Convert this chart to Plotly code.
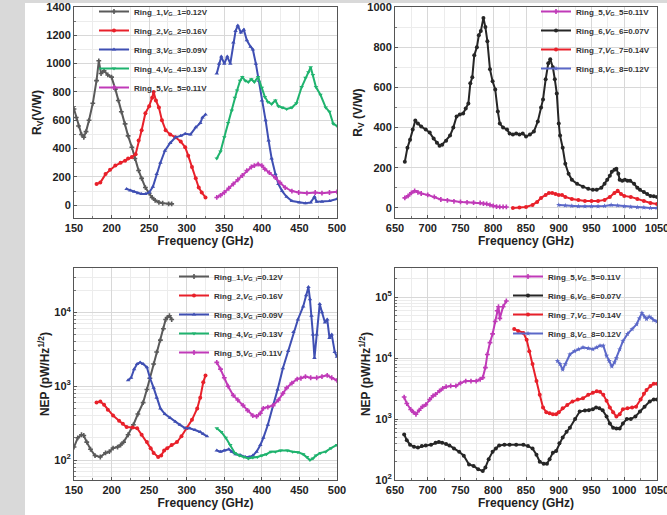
import plotly.graph_objects as go

# ---------------- data: top-left (Rv, 150-500 GHz) ----------------
r1_f = [150,153,156,160,163,166,170,175,180,183,186,190,195,200,205,209,213,218,222,227,231,236,240,245,250,254,258,263,268,276,280]
r1_v = [680,620,560,500,480,520,600,720,880,1020,930,950,920,905,820,740,660,575,490,410,330,245,190,125,85,55,35,20,14,10,10]

r2_f = [180,185,192,198,205,212,218,222,227,232,236,240,245,250,254,256,259,263,267,272,278,285,292,298,302,307,312,316,320,325]
r2_v = [150,160,220,250,280,300,315,330,340,360,457,530,650,700,760,800,740,690,600,530,500,480,450,410,350,270,190,125,90,55]

r3a_f = [220,225,230,235,240,245,250,255,260,265,271,278,285,292,298,305,312,318,321,325]
r3a_v = [115,105,95,85,80,80,90,130,220,300,385,440,480,490,505,500,550,580,620,640]

r3b_f = [340,343,346,350,354,358,362,365,368,372,376,380,385,388,392,396,400,405,409,413,418,422,427,433,440,450,458,465,470,473,480,490,500]
r3b_v = [930,1000,1050,1000,1050,1000,1150,1230,1270,1220,1240,1165,1120,1100,1000,880,740,600,457,330,220,150,100,60,30,20,15,20,60,25,25,30,45]

r4_f = [340,345,350,355,360,364,367,371,374,378,382,386,390,395,400,404,408,413,418,422,427,433,440,446,453,458,462,465,468,472,478,485,490,495,500]
r4_v = [330,380,480,580,670,760,810,880,905,880,870,890,870,905,830,765,730,715,740,700,690,680,690,720,835,900,940,975,920,835,780,690,660,575,560]

r5_f = [340,345,350,356,362,368,374,380,386,390,395,400,404,410,418,424,431,440,449,460,471,480,490,500]
r5_v = [55,70,90,120,150,180,210,245,270,280,290,280,255,230,195,160,125,100,90,85,90,85,90,95]

# ---------------- data: top-right (Rv, 650-1050 GHz) ----------------
r5r_f = [665,670,675,680,685,690,700,710,720,730,740,750,760,770,780,785,790,795,800,805,810,815,820]
r5r_v = [50,60,75,85,78,72,65,55,42,38,33,30,28,27,25,22,20,15,10,7,5,5,5]

r6_f = [665,669,673,677,681,685,690,697,703,709,714,718,722,728,734,739,744,749,754,758,762,765,768,771,775,778,781,785,788,791,795,799,803,807,810,815,821,825,830,835,840,845,850,856,862,868,873,876,880,884,887,891,894,897,900,902,906,910,915,920,928,937,945,952,958,965,970,974,978,981,985,988,991,993,997,1001,1005,1009,1015,1020,1024,1030,1035,1040,1045,1050]
r6_v = [230,300,340,390,435,420,405,390,375,345,325,310,315,335,360,400,455,465,470,495,520,620,650,760,800,860,880,945,900,830,690,630,590,480,420,400,390,370,365,370,365,370,355,365,380,430,500,540,640,720,740,700,640,570,420,360,300,220,170,140,120,105,95,90,90,100,120,140,160,180,190,195,170,140,135,140,135,135,120,100,90,80,70,60,58,55]

r7_f = [830,840,850,860,867,873,880,885,890,895,900,905,910,920,930,940,950,960,970,978,985,990,995,1000,1010,1020,1030,1040,1050]
r7_v = [0,2,5,15,30,50,65,75,75,70,65,65,55,45,40,35,35,35,40,55,75,85,70,60,55,45,35,25,20]

r8_f = [900,910,920,930,940,950,960,970,980,990,1000,1010,1020,1030,1040,1050]
r8_v = [15,12,10,8,8,8,8,10,15,12,8,5,3,2,0,0]

# ---------------- data: bottom-left (NEP, 150-500 GHz) ----------------
n1_f = [150,155,160,163,167,172,178,185,192,197,202,208,212,216,222,229,235,242,247,251,256,260,265,269,272,274,277,280]
n1_v = [150,200,220,215,175,140,115,110,125,130,145,150,160,175,220,300,420,600,900,1280,2000,2900,4200,6000,8000,8500,9000,8000]

n2_f = [180,185,190,195,202,210,215,220,228,234,240,247,252,256,262,266,270,274,280,287,293,300,307,314,318,322,325]
n2_v = [600,620,560,480,400,340,310,280,275,270,220,175,145,125,110,115,135,145,160,175,210,270,350,500,700,1130,1400]

n3a_f = [222,226,230,234,238,242,247,251,256,260,265,271,278,285,291,298,304,311,318,322,327]
n3a_v = [1200,1300,1700,2000,2100,2000,1800,1300,950,700,500,420,370,330,300,270,270,255,240,225,210]

n3b_f = [340,345,350,356,360,365,371,378,383,388,393,398,402,408,415,421,428,435,442,448,455,459,462,464,466,468,470,473,477,480,484,487,490,493,497,500]
n3b_v = [135,130,135,140,130,120,117,110,110,115,130,160,200,300,550,900,1750,3000,5400,8000,12000,17000,22000,15000,9000,5000,2400,5000,13000,10000,7300,8000,4500,5000,2900,2500]

n4_f = [340,346,352,358,364,370,376,382,388,394,400,406,412,418,425,434,441,448,455,460,464,468,472,478,485,492,500]
n4_v = [270,240,200,160,125,115,110,105,108,110,115,120,130,130,135,135,130,128,120,110,100,105,115,125,130,145,160]

n5_f = [340,345,350,355,362,368,375,381,388,393,398,402,408,415,422,428,433,440,447,452,458,465,473,480,487,493,500]
n5_v = [2100,1700,1300,1000,750,650,550,470,400,390,430,500,520,550,650,800,950,1100,1250,1280,1350,1300,1300,1350,1400,1300,1200]

# ---------------- data: bottom-right (NEP, 650-1050 GHz) ----------------
n5r_f = [664,668,674,678,682,687,692,697,703,708,712,718,723,728,735,743,750,758,766,774,780,784,788,791,795,799,803,806,808,810,815,820]
n5r_v = [2300,1800,1440,1300,1200,1400,1600,1730,2100,2400,2550,2900,3200,3400,3500,3500,3900,4200,4200,4200,4500,4800,7000,11500,18000,25000,40000,60000,70000,45000,70000,87000]

n6_f = [664,668,673,679,685,691,697,705,712,717,722,728,733,740,748,755,763,770,777,784,788,793,799,804,809,817,825,835,846,853,860,866,871,877,882,886,891,896,901,906,912,917,925,932,940,946,952,957,962,967,973,978,983,988,993,998,1004,1010,1017,1024,1031,1039,1045,1050]
n6_v = [560,450,380,350,340,360,370,380,410,420,410,390,370,330,290,250,180,170,150,140,160,220,290,330,370,380,380,380,380,360,330,260,200,185,185,220,280,300,400,500,620,720,1000,1330,1380,1400,1450,1550,1500,1400,1100,850,720,700,700,850,1000,1000,1100,1330,1600,1950,2100,2100]

n7_f = [832,838,846,851,855,860,866,871,876,881,886,891,896,900,906,913,921,929,937,945,952,958,963,968,973,978,983,988,993,998,1005,1012,1018,1025,1030,1034,1040,1045,1050]
n7_v = [30000,28000,26000,20000,13000,8000,4200,2500,1550,1300,1250,1200,1200,1300,1500,1700,1950,2100,2200,2500,2700,2850,2800,2500,2000,1550,1300,1100,1200,1450,1500,1550,1600,2100,2600,3000,3500,3800,3800]

n8_f = [898,902,906,910,917,924,930,937,945,952,958,963,968,973,977,981,985,988,993,998,1005,1012,1019,1023,1027,1031,1034,1038,1041,1045,1050]
n8_v = [9000,8000,6500,8000,11500,13000,14000,15000,14500,14000,15000,16000,16000,11000,9000,7300,8500,10000,14000,19000,25000,30000,36000,45000,55000,48000,44000,48000,46000,42000,40000]

# ---------------- labels ----------------
tl_names = ["Ring_1,<i>V</i><sub>G</sub>_1=0.12V", "Ring_2,<i>V</i><sub>G</sub>_2=0.16V",
            "Ring_3,<i>V</i><sub>G</sub>_3=0.09V", "Ring_4,<i>V</i><sub>G</sub>_4=0.13V",
            "Ring_5,<i>V</i><sub>G</sub>_5=0.11V"]
tr_names = ["Ring_5,<i>V</i><sub>G</sub>_5=0.11V", "Ring_6,<i>V</i><sub>G</sub>_6=0.07V",
            "Ring_7,<i>V</i><sub>G</sub>_7=0.14V", "Ring_8,<i>V</i><sub>G</sub>_8=0.12V"]
bl_names = ["Ring_1,<i>V</i><sub>G_i</sub>=0.12V", "Ring_2,<i>V</i><sub>G_i</sub>=0.16V",
            "Ring_3,<i>V</i><sub>G_i</sub>=0.09V", "Ring_4,<i>V</i><sub>G_i</sub>=0.13V",
            "Ring_5,<i>V</i><sub>G_i</sub>=0.11V"]
br_names = ["Ring_5,<i>V</i><sub>G</sub>_5=0.11V", "Ring_6,<i>V</i><sub>G</sub>_6=0.07V",
            "Ring_7,<i>V</i><sub>G</sub>_7=0.14V", "Ring_8,<i>V</i><sub>G</sub>_8=0.12V"]

log_tickvals = [100, 1000, 10000, 100000]
log_ticktext = ["10<sup>2</sup>", "10<sup>3</sup>", "10<sup>4</sup>", "10<sup>5</sup>"]

C_GRAY = "#5a5a5a"
C_RED = "#e8202a"
C_BLUE = "#3f4fb3"
C_GREEN = "#1fb36e"
C_MAG = "#c03ab8"
C_BLACK = "#262626"
C_BLUE2 = "#5b68c8"

fig = go.Figure()

def add(x, y, name, color, xa, ya, legend, symbol="circle", show=True, group=None):
    fig.add_trace(go.Scatter(
        x=x, y=y, name=name, mode="lines+markers",
        line=dict(color=color, width=2),
        marker=dict(color=color, size=4, symbol=symbol),
        xaxis=xa, yaxis=ya, legend=legend, showlegend=show,
        legendgroup=group or name))

# top-left
add(r1_f, r1_v, tl_names[0], C_GRAY, "x", "y", "legend", "cross")
add(r2_f, r2_v, tl_names[1], C_RED, "x", "y", "legend")
add(r3a_f, r3a_v, tl_names[2], C_BLUE, "x", "y", "legend", "triangle-up", group="tl3")
add(r3b_f, r3b_v, tl_names[2], C_BLUE, "x", "y", "legend", "triangle-up", show=False, group="tl3")
add(r4_f, r4_v, tl_names[3], C_GREEN, "x", "y", "legend", "triangle-down")
add(r5_f, r5_v, tl_names[4], C_MAG, "x", "y", "legend", "cross")
# top-right
add(r5r_f, r5r_v, tr_names[0], C_MAG, "x2", "y2", "legend2", "cross")
add(r6_f, r6_v, tr_names[1], C_BLACK, "x2", "y2", "legend2")
add(r7_f, r7_v, tr_names[2], C_RED, "x2", "y2", "legend2")
add(r8_f, r8_v, tr_names[3], C_BLUE2, "x2", "y2", "legend2", "star")
# bottom-left
add(n1_f, n1_v, bl_names[0], C_GRAY, "x3", "y3", "legend3", "cross")
add(n2_f, n2_v, bl_names[1], C_RED, "x3", "y3", "legend3")
add(n3a_f, n3a_v, bl_names[2], C_BLUE, "x3", "y3", "legend3", "triangle-up", group="bl3")
add(n3b_f, n3b_v, bl_names[2], C_BLUE, "x3", "y3", "legend3", "triangle-up", show=False, group="bl3")
add(n4_f, n4_v, bl_names[3], C_GREEN, "x3", "y3", "legend3", "triangle-down")
add(n5_f, n5_v, bl_names[4], C_MAG, "x3", "y3", "legend3", "cross")
# bottom-right
add(n5r_f, n5r_v, br_names[0], C_MAG, "x4", "y4", "legend4", "cross")
add(n6_f, n6_v, br_names[1], C_BLACK, "x4", "y4", "legend4")
add(n7_f, n7_v, br_names[2], C_RED, "x4", "y4", "legend4")
add(n8_f, n8_v, br_names[3], C_BLUE2, "x4", "y4", "legend4", "star")

W, H = 667, 515
FONT = "Liberation Sans"
tickfont = dict(family=FONT, size=11, color="#222", weight="bold")
titlefont = dict(family=FONT, size=12, color="#222", weight="bold")

def ax(domain, rng, dtick=None, title="", anchor=None, log=False, minor_dtick=None):
    d = dict(domain=domain, range=rng, anchor=anchor, automargin=False,
             showline=True, mirror=True, ticklabeloverflow="allow",
             linecolor="#555", linewidth=1, ticks="inside", ticklen=3, tickcolor="#555",
             showgrid=True, gridcolor="#d8d8d8", gridwidth=1, zeroline=False,
             tickfont=tickfont, title=dict(text=title, font=titlefont, standoff=2))
    if log:
        d.update(type="log", tickvals=log_tickvals, ticktext=log_ticktext,
                 minor=dict(ticks="inside", ticklen=2, tickcolor="#777", showgrid=True,
                            gridcolor="#ececec", dtick="D1"))
    else:
        d.update(dtick=dtick, tick0=0,
                 minor=dict(ticks="inside", ticklen=2, tickcolor="#777", showgrid=True,
                            gridcolor="#ececec", dtick=minor_dtick))
    return d

xl = [74 / W, 337 / W]
xr = [395 / W, 657 / W]
yt = [1 - 218 / H, 1 - 7 / H]
yb = [1 - 480 / H, 1 - 268 / H]

legfont = dict(family=FONT, size=8, color="#333", weight="bold")
def leg(x, y):
    return dict(x=x, y=y, xanchor="left", yanchor="top", bgcolor="rgba(255,255,255,0)",
                font=legfont, itemwidth=30, tracegroupgap=0, borderwidth=0)

fig.update_layout(
    width=W, height=H, margin=dict(l=0, r=0, t=0, b=0, autoexpand=False),
    paper_bgcolor="white", plot_bgcolor="white",
    xaxis=ax(xl, [150, 500], 50, "Frequency (GHz)", "y", minor_dtick=25),
    yaxis=ax(yt, [-90, 1400], 200, "R<sub>V</sub>(V/W)", "x", minor_dtick=100),
    xaxis2=ax(xr, [650, 1050], 50, "Frequency (GHz)", "y2", minor_dtick=25),
    yaxis2=ax(yt, [-50, 1000], 200, "R<sub>V</sub> (V/W)", "x2", minor_dtick=100),
    xaxis3=ax(xl, [150, 500], 50, "Frequency (GHz)", "y3", minor_dtick=25),
    yaxis3=ax(yb, [1.73, 4.6], title="NEP (pW/Hz<sup>1/2</sup>)", anchor="x3", log=True),
    xaxis4=ax(xr, [650, 1050], 50, "Frequency (GHz)", "y4", minor_dtick=25),
    yaxis4=ax(yb, [2, 5.48], title="NEP (pW/Hz<sup>1/2</sup>)", anchor="x4", log=True),
    legend=leg(94 / W, 1 + 3 / H),
    legend2=leg(536 / W, 1 + 3 / H),
    legend3=leg(174 / W, 1 - 262 / H),
    legend4=leg(508 / W, 1 - 262 / H),
    showlegend=True,
    shapes=[
        dict(type="rect", xref="paper", yref="paper", x0=0, x1=25 / W, y0=0, y1=1,
             fillcolor="#d9d9d9", line=dict(width=0), layer="below"),
        dict(type="rect", xref="paper", yref="paper", x0=0, x1=1, y0=1 - 3 / H, y1=1,
             fillcolor="#d9d9d9", line=dict(width=0), layer="below"),
    ],
)

fig.write_html("out.html", config={"displayModeBar": False},
               post_script="document.body.style.margin='0px';")
